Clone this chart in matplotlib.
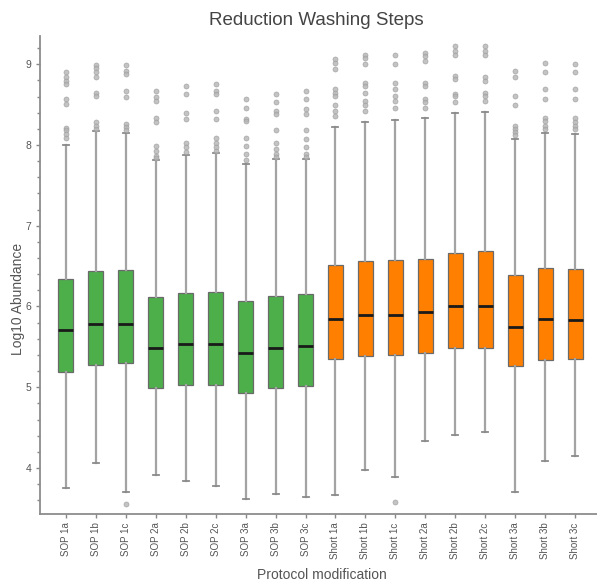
import matplotlib
matplotlib.use("Agg")
import matplotlib.pyplot as plt
from matplotlib.ticker import MultipleLocator

plt.rcParams['font.family'] = ['Liberation Sans', 'DejaVu Sans']

protocols = ["SOP 1a", "SOP 1b", "SOP 1c", "SOP 2a", "SOP 2b", "SOP 2c",
             "SOP 3a", "SOP 3b", "SOP 3c",
             "Short 1a", "Short 1b", "Short 1c", "Short 2a", "Short 2b", "Short 2c",
             "Short 3a", "Short 3b", "Short 3c"]

whisker_low = [3.75, 4.06, 3.70, 3.91, 3.84, 3.78, 3.62, 3.68, 3.64,
               3.67, 3.97, 3.89, 4.33, 4.41, 4.44, 3.70, 4.09, 4.15]
q1 = [5.19, 5.28, 5.30, 4.99, 5.03, 5.03, 4.93, 4.99, 5.02,
      5.35, 5.39, 5.40, 5.42, 5.49, 5.49, 5.26, 5.34, 5.35]
median = [5.71, 5.78, 5.78, 5.49, 5.54, 5.54, 5.43, 5.49, 5.51,
          5.84, 5.89, 5.90, 5.93, 6.00, 6.00, 5.75, 5.84, 5.83]
q3 = [6.34, 6.44, 6.45, 6.12, 6.17, 6.18, 6.07, 6.13, 6.16,
      6.51, 6.56, 6.58, 6.59, 6.66, 6.69, 6.39, 6.48, 6.47]
whisker_high = [8.00, 8.17, 8.15, 7.81, 7.88, 7.90, 7.77, 7.83, 7.83,
                8.22, 8.28, 8.31, 8.34, 8.40, 8.41, 8.07, 8.15, 8.14]

outliers = [
    [8.90, 8.84, 8.79, 8.75, 8.57, 8.51, 8.21, 8.18, 8.14, 8.09],
    [8.99, 8.95, 8.90, 8.84, 8.65, 8.61, 8.28, 8.24, 8.20],
    [8.99, 8.92, 8.88, 8.67, 8.59, 8.26, 8.22, 8.18, 3.55],
    [8.67, 8.59, 8.55, 8.34, 8.28, 7.99, 7.93, 7.87, 7.84],
    [8.73, 8.63, 8.40, 8.32, 8.03, 7.97, 7.91],
    [8.75, 8.67, 8.63, 8.42, 8.32, 8.09, 8.03, 7.97, 7.92],
    [8.57, 8.46, 8.32, 8.30, 8.09, 7.99, 7.89, 7.81],
    [8.63, 8.53, 8.42, 8.38, 8.18, 8.03, 7.95, 7.89, 7.85],
    [8.67, 8.57, 8.44, 8.38, 8.18, 8.07, 7.97, 7.89, 7.85],
    [9.06, 9.02, 8.94, 8.69, 8.65, 8.61, 8.49, 8.42, 8.36],
    [9.12, 9.08, 9.00, 8.77, 8.73, 8.65, 8.55, 8.49, 8.42],
    [9.12, 9.00, 8.77, 8.69, 8.61, 8.55, 8.46, 3.58],
    [9.14, 9.10, 9.04, 8.77, 8.73, 8.57, 8.53, 8.46],
    [9.23, 9.17, 9.12, 8.86, 8.82, 8.63, 8.61, 8.53],
    [9.23, 9.17, 9.12, 8.84, 8.79, 8.65, 8.61, 8.55],
    [8.92, 8.84, 8.61, 8.49, 8.24, 8.20, 8.16, 8.12],
    [9.02, 8.90, 8.69, 8.57, 8.34, 8.30, 8.24, 8.20],
    [9.00, 8.90, 8.69, 8.57, 8.33, 8.28, 8.24, 8.20],
]

group_colors = {"SOP": "#4daf4a", "Short": "#ff7f00"}

stats = []
for i, name in enumerate(protocols):
    stats.append(dict(label=name, whislo=whisker_low[i], q1=q1[i], med=median[i],
                      q3=q3[i], whishi=whisker_high[i], fliers=outliers[i]))

fig = plt.figure(figsize=(5.97, 5.82), dpi=100)
ax = fig.add_axes([40 / 597, 68 / 582, 561 / 597, 478 / 582])

positions = list(range(len(protocols)))
bp = ax.bxp(stats, positions=positions, widths=0.5, patch_artist=True,
            showfliers=True,
            boxprops=dict(edgecolor="#6a6a6a", linewidth=0.9),
            medianprops=dict(color="#1a1a1a", linewidth=2.0),
            whiskerprops=dict(color="#a3a3a3", linewidth=1.6),
            capprops=dict(color="#8a8a8a", linewidth=1.3),
            flierprops=dict(marker="o", markersize=3.6, markerfacecolor="#b4b4b4",
                            markeredgecolor="#9a9a9a", markeredgewidth=0.5,
                            alpha=0.8, linestyle="none"))
for cap in bp["caps"]:
    xs = cap.get_xdata()
    c = (xs[0] + xs[1]) / 2
    cap.set_xdata([c - 0.1, c + 0.1])
for patch, name in zip(bp["boxes"], protocols):
    patch.set_facecolor(group_colors[name.split()[0]])

ax.set_xlim(-0.857, 17.857)
ax.set_ylim(3.43, 9.35)
ax.yaxis.set_major_locator(MultipleLocator(1))
ax.yaxis.set_minor_locator(MultipleLocator(0.2))

ax.set_xticks(positions)
ax.set_xticklabels(protocols, rotation=90, fontsize=7, color="#555555")
ax.tick_params(axis="y", which="major", labelsize=7.5, labelcolor="#555555",
               color="#888888", length=3, width=1, pad=3)
ax.tick_params(axis="y", which="minor", color="#888888", length=2.5, width=1)
ax.tick_params(axis="x", color="#888888", length=3, width=1, pad=3)

for side in ("top", "right"):
    ax.spines[side].set_visible(False)
for side in ("left", "bottom"):
    ax.spines[side].set_color("#8c8c8c")
    ax.spines[side].set_linewidth(1.3)

ax.set_ylabel("Log10 Abundance", fontsize=10, color="#555555")
ax.yaxis.set_label_coords(-0.027, 0.45)
ax.set_xlabel("Protocol modification", fontsize=10, color="#555555")
ax.xaxis.set_label_coords(0.503, -0.112)
ax.set_title("Reduction Washing Steps", fontsize=13.5, color="#444444",
             x=0.492, y=1 + 11 / 478, pad=0)

fig.savefig("out.png", dpi=100)
